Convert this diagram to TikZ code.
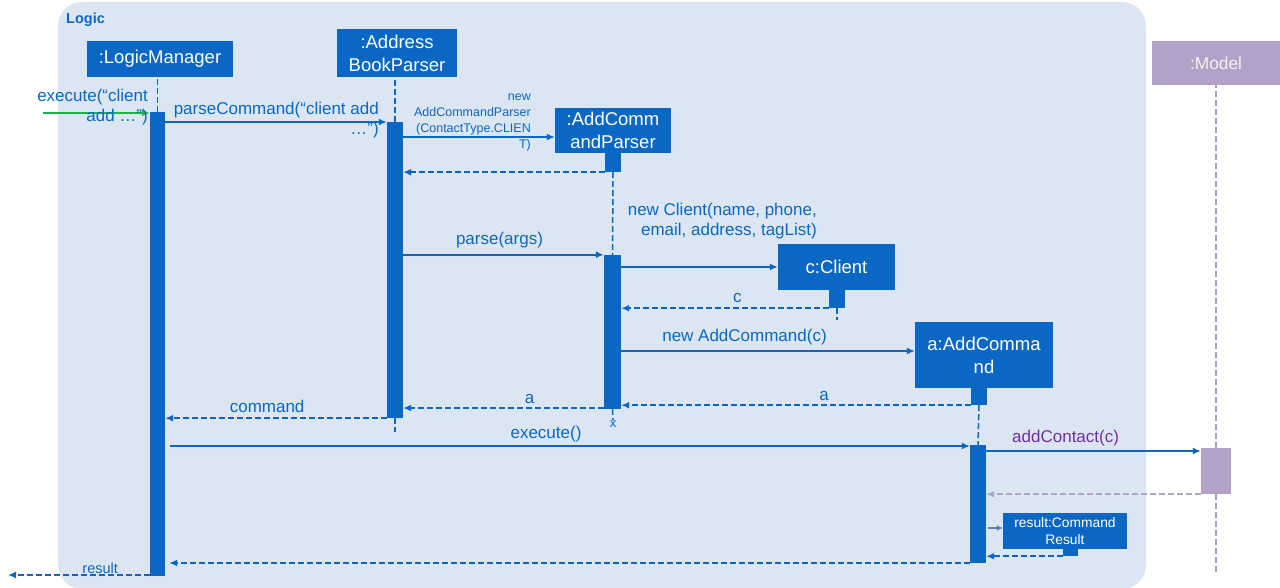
\documentclass[tikz,border=0pt]{standalone}
\usepackage{fontspec}
\setmainfont{Liberation Sans}
\usetikzlibrary{arrows.meta}
\definecolor{umlblue}{HTML}{0A68C4}
\definecolor{logicbg}{HTML}{DCE6F2}
\definecolor{modelfill}{HTML}{B3A2C7}
\definecolor{modelline}{HTML}{A89BBE}
\definecolor{callpurple}{HTML}{7030A0}
\definecolor{callgreen}{HTML}{22B04B}
\definecolor{smallarrow}{HTML}{5B7DB8}
\newcommand{\boxfont}{\fontsize{18.5}{23}\selectfont}
\newcommand{\msgfont}{\fontsize{17}{20}\selectfont}

\begin{document}
\begin{tikzpicture}[x=1pt,y=-1pt,
 object/.style={fill=umlblue,text=white,inner sep=0pt,align=center,font=\boxfont},
 actbar/.style={fill=umlblue,inner sep=0pt,minimum width=16pt},
 lifeline/.style={umlblue,line width=1.5pt,dash pattern=on 6pt off 3pt},
 call/.style={-{Latex[length=8pt,width=7pt]},umlblue,line width=1.5pt},
 reply/.style={call,dash pattern=on 6pt off 3pt},
 msglabel/.style={text=umlblue,inner sep=0pt,font=\msgfont}]
\useasboundingbox (0,0) rectangle (1280,588);
\fill[logicbg,rounded corners=24pt] (58,2) rectangle (1146,589);
\node[anchor=west,text=umlblue,inner sep=0pt,font=\fontsize{14.5}{17}\selectfont\bfseries] (logic) at (66,20) {Logic};
% participants
\node[object,minimum width=146pt,minimum height=36pt] (lm) at (160,59) {:LogicManager};
\node[object,minimum width=120pt,minimum height=48pt] (abp) at (397,53) {:Address\\BookParser};
\node[object,minimum width=116pt,minimum height=45pt] (acp) at (613,130.5) {:AddComm\\andParser};
\node[object,minimum width=117pt,minimum height=46pt] (cl) at (836.5,267) {c:Client};
\node[object,minimum width=138pt,minimum height=66pt] (ac) at (984,355) {a:AddComma\\nd};
\node[object,minimum width=124pt,minimum height=36pt,font=\fontsize{13.8}{17}\selectfont] (cr) at (1065,531) {result:Command\\Result};
\node[fill=modelfill,text=white!95!black,inner sep=0pt,minimum width=128pt,minimum height=44pt,font=\fontsize{17.3}{20}\selectfont] (md) at (1216,63) {:Model};
% activations
\node[actbar,minimum width=15pt,minimum height=464pt] (lmbar) at (157.5,344) {};
\node[actbar,minimum height=296pt] (abpbar) at (395,270) {};
\node[actbar,minimum height=19pt] (acpsmall) at (613,162.5) {};
\node[actbar,minimum width=17pt,minimum height=154pt] (acpbar) at (612.5,332) {};
\node[actbar,minimum height=18pt] (clsmall) at (837,299) {};
\node[actbar,minimum height=17pt] (acsmall) at (979,396.5) {};
\node[actbar,minimum height=118pt] (acbar) at (978,504) {};
\node[actbar,minimum width=15pt,minimum height=7pt] (crsmall) at (1070.5,552.5) {};
\node[fill=modelfill,inner sep=0pt,minimum width=30pt,minimum height=46pt] (mdbar) at (1216,471) {};
\node[text=umlblue,inner sep=0pt,font=\fontsize{13}{15}\selectfont] (kill) at (613,424) {x};
% lifelines
\draw[lifeline] (lmbar.north) -- (lmbar.north |- lm.south);
\draw[lifeline] (abpbar.north) -- (abpbar.north |- abp.south);
\draw[lifeline] (abpbar.south) -- ++(0,14);
\draw[lifeline] (acpsmall.south) -- (acpbar.north);
\draw[lifeline] (acpbar.south) -- (kill.north);
\draw[lifeline] (clsmall.south) -- ++(0,12);
\draw[lifeline] (acsmall.south) -- (acbar.north);
\draw[lifeline,modelline] (mdbar.north) -- (md.south);
\draw[lifeline,modelline] (mdbar.south) -- ++(0,81);
% messages
\coordinate (caller) at (43,113);
\coordinate (outside) at (8,575);
\draw[call,callgreen] (caller) -- (lmbar.west |- caller);
\node[msglabel,anchor=east,align=right] (execlbl) at (148,107) {execute(“client\\add …”)};
\draw[call] (lmbar.east |- 0,122) -- (abpbar.west |- 0,122);
\node[msglabel,anchor=east,align=right] (parselbl) at (379,120) {parseCommand(“client add\\…”)};
\draw[call] (abpbar.east |- 0,137) -- (acp.west |- 0,137);
\node[msglabel,anchor=east,align=right,font=\fontsize{12.5}{16}\selectfont] (newacplbl) at (531,122) {new\\AddCommandParser\\(ContactType.CLIEN\\T)};
\draw[reply] (acpsmall.south west) -- (abpbar.east |- acpsmall.south);
\draw[call] (abpbar.east |- acpbar.north) -- node[msglabel,above=6pt,pos=0.48]{parse(args)} (acpbar.north west);
\node[msglabel,anchor=east,align=right] (newcllbl) at (817,221) {new Client(name, phone,\\email, address, tagList)};
\draw[call] (acpbar.east |- cl.west) -- (cl.west);
\draw[reply] (clsmall.south west) -- node[msglabel,above=5pt,pos=0.44]{c} (acpbar.east |- clsmall.south);
\draw[call] (acpbar.east |- 0,351) -- node[msglabel,above=5pt,pos=0.42]{new AddCommand(c)} (ac.west |- 0,351);
\draw[reply] (acsmall.south west) -- node[msglabel,above=4pt,pos=0.42]{a} (acpbar.east |- acsmall.south);
\draw[reply] (acpbar.west |- 0,408) -- node[msglabel,above=4pt,pos=0.37]{a} (abpbar.east |- 0,408);
\draw[reply] (abpbar.south west) -- node[msglabel,above=5pt,pos=0.54]{command} (lmbar.east |- abpbar.south);
\draw[call] ([xshift=5pt]lmbar.east |- 0,446) -- node[msglabel,above=3pt,pos=0.47]{execute()} (acbar.west |- 0,446);
\draw[call] (acbar.east |- 0,451) -- node[msglabel,above=4pt,pos=0.37,text=callpurple]{addContact(c)} (mdbar.west |- 0,451);
\draw[reply,modelfill] (mdbar.south west) -- (acbar.east |- mdbar.south);
\draw[call,smallarrow,-{Latex[length=6pt,width=6pt]}] ([xshift=2pt]acbar.east |- 0,528) -- (cr.west |- 0,528);
\draw[reply] (crsmall.south west) -- (acbar.east |- crsmall.south);
\draw[reply] (acbar.west |- 0,563) -- ([xshift=4pt]lmbar.east |- 0,563);
\draw[reply] (lmbar.west |- outside) -- node[msglabel,above=1pt,pos=0.35,font=\fontsize{14.5}{17}\selectfont]{result} (outside);
\end{tikzpicture}
\end{document}
